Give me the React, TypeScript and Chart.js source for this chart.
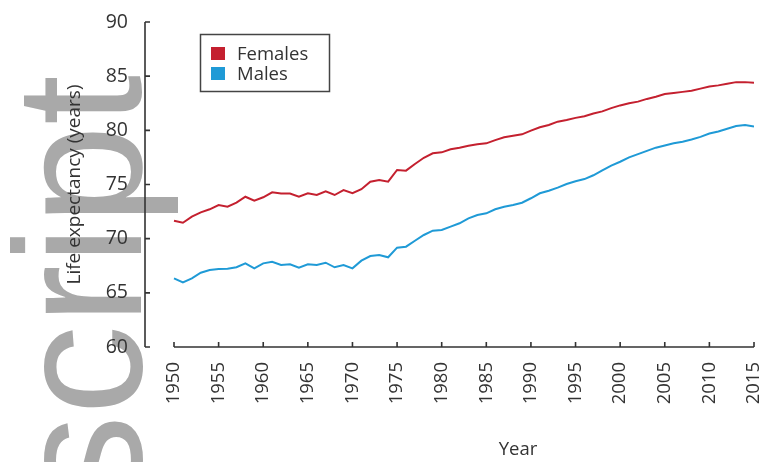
import React, { useEffect, useRef } from "react";
import { Chart, registerables } from "chart.js";

Chart.register(...registerables);

const years = [
  1950, 1951, 1952, 1953, 1954, 1955, 1956, 1957, 1958, 1959,
  1960, 1961, 1962, 1963, 1964, 1965, 1966, 1967, 1968, 1969,
  1970, 1971, 1972, 1973, 1974, 1975, 1976, 1977, 1978, 1979,
  1980, 1981, 1982, 1983, 1984, 1985, 1986, 1987, 1988, 1989,
  1990, 1991, 1992, 1993, 1994, 1995, 1996, 1997, 1998, 1999,
  2000, 2001, 2002, 2003, 2004, 2005, 2006, 2007, 2008, 2009,
  2010, 2011, 2012, 2013, 2014, 2015,
];

const females = [
  71.66, 71.47, 72.03, 72.43, 72.71, 73.1, 72.95, 73.32, 73.87, 73.5,
  73.82, 74.28, 74.16, 74.16, 73.87, 74.19, 74.03, 74.37, 74.03, 74.49,
  74.19, 74.56, 75.26, 75.42, 75.26, 76.34, 76.28, 76.89, 77.47, 77.88,
  77.97, 78.25, 78.4, 78.58, 78.71, 78.8, 79.1, 79.36, 79.5, 79.63,
  79.97, 80.28, 80.49, 80.8, 80.95, 81.15, 81.3, 81.55, 81.75, 82.05,
  82.3, 82.5, 82.65, 82.9, 83.1, 83.35, 83.45, 83.55, 83.65, 83.85,
  84.05, 84.15, 84.3, 84.45, 84.45, 84.4,
];

const males = [
  66.34, 65.97, 66.34, 66.86, 67.11, 67.2, 67.23, 67.36, 67.72, 67.26,
  67.72, 67.87, 67.57, 67.63, 67.32, 67.63, 67.57, 67.78, 67.36, 67.57,
  67.26, 67.97, 68.4, 68.5, 68.28, 69.17, 69.26, 69.81, 70.34, 70.74,
  70.8, 71.11, 71.42, 71.88, 72.19, 72.34, 72.71, 72.95, 73.11, 73.32,
  73.73, 74.19, 74.43, 74.71, 75.05, 75.3, 75.5, 75.85, 76.3, 76.75,
  77.1, 77.5, 77.8, 78.1, 78.4, 78.6, 78.8, 78.95, 79.15, 79.4,
  79.7, 79.9, 80.15, 80.4, 80.5, 80.35,
];

const xTickValues = [1950, 1955, 1960, 1965, 1970, 1975, 1980, 1985, 1990, 1995, 2000, 2005, 2010, 2015];
const yTickValues = [60, 65, 70, 75, 80, 85, 90];

const seriesLabels = ["Females", "Males"];
const seriesColors = ["#c4202f", "#1f9ad6"];
const yTitle = "Life expectancy (years)";
const xTitle = "Year";
const watermarkText = "script";

const FONT = "'Open Sans', sans-serif";
const TEXT = "#333333";
const AXIS = "#333333";

const customPlugin = {
  id: "customDecor",
  beforeDraw(chart: any) {
    const { ctx } = chart;
    ctx.save();
    ctx.translate(141, 505);
    ctx.rotate(-Math.PI / 2);
    ctx.fillStyle = "#a9a9a9";
    ctx.font = "180px 'Liberation Sans', Arial, sans-serif";
    ctx.textAlign = "left";
    ctx.textBaseline = "alphabetic";
    ctx.fillText(watermarkText, 0, 0);
    ctx.restore();
  },
  beforeDatasetsDraw(chart: any) {
    const { ctx, chartArea } = chart;
    const x = chart.scales.x;
    const y = chart.scales.y;
    ctx.save();
    ctx.strokeStyle = AXIS;
    ctx.lineWidth = 1.6;
    ctx.lineCap = "butt";
    ctx.beginPath();
    const ax = chartArea.left;
    const yTop = y.getPixelForValue(yTickValues[yTickValues.length - 1]);
    const yBot = y.getPixelForValue(yTickValues[0]);
    ctx.moveTo(ax, yTop);
    ctx.lineTo(ax, yBot);
    yTickValues.forEach((v) => {
      const py = y.getPixelForValue(v);
      ctx.moveTo(ax, py);
      ctx.lineTo(ax + 5, py);
    });
    const by = chartArea.bottom;
    ctx.moveTo(x.getPixelForValue(xTickValues[0]), by);
    ctx.lineTo(x.getPixelForValue(xTickValues[xTickValues.length - 1]), by);
    xTickValues.forEach((v) => {
      const px = x.getPixelForValue(v);
      ctx.moveTo(px, by);
      ctx.lineTo(px, by - 5);
    });
    ctx.stroke();
    ctx.restore();
  },
  afterDraw(chart: any) {
    const { ctx } = chart;
    ctx.save();
    ctx.strokeStyle = "#444444";
    ctx.lineWidth = 1.5;
    ctx.strokeRect(200.5, 34.5, 129, 57);
    ctx.font = `18.5px ${FONT}`;
    ctx.textBaseline = "middle";
    ctx.textAlign = "left";
    chart.data.datasets.forEach((ds: any, i: number) => {
      const cy = 53.5 + i * 20;
      ctx.fillStyle = ds.borderColor;
      ctx.fillRect(211, cy - 6.5, 14, 13);
      ctx.fillStyle = TEXT;
      ctx.fillText(ds.label, 237, cy + 1);
    });
    ctx.font = `18.5px ${FONT}`;
    ctx.textAlign = "center";
    ctx.textBaseline = "alphabetic";
    ctx.fillStyle = TEXT;
    ctx.fillText(xTitle, 518, 455);
    ctx.restore();
  },
};

export default function App() {
  const canvasRef = useRef<HTMLCanvasElement | null>(null);

  useEffect(() => {
    if (!canvasRef.current) return;
    const chart = new Chart(canvasRef.current, {
      type: "line",
      data: {
        datasets: [
          {
            label: seriesLabels[0],
            data: years.map((yr, i) => ({ x: yr, y: females[i] })),
            borderColor: seriesColors[0],
            backgroundColor: seriesColors[0],
            borderWidth: 2,
            pointRadius: 0,
            tension: 0,
          },
          {
            label: seriesLabels[1],
            data: years.map((yr, i) => ({ x: yr, y: males[i] })),
            borderColor: seriesColors[1],
            backgroundColor: seriesColors[1],
            borderWidth: 2,
            pointRadius: 0,
            tension: 0,
          },
        ],
      },
      options: {
        animation: false,
        responsive: true,
        maintainAspectRatio: false,
        layout: { padding: { top: 22, right: 12, left: 0, bottom: 0 } },
        plugins: {
          legend: { display: false },
          tooltip: { enabled: false },
        },
        scales: {
          x: {
            type: "linear",
            min: 1946.75,
            max: 2015,
            grid: { display: false, drawTicks: false },
            border: { display: false },
            afterBuildTicks: (scale: any) => {
              scale.ticks = xTickValues.map((v) => ({ value: v }));
            },
            afterFit: (scale: any) => {
              scale.height = 115;
              scale.paddingLeft = 0;
              scale.paddingRight = 0;
            },
            ticks: {
              minRotation: 90,
              maxRotation: 90,
              padding: 15,
              color: TEXT,
              font: { family: FONT, size: 18.5 },
              callback: (v: any) => String(v),
              autoSkip: false,
            },
          },
          y: {
            type: "linear",
            min: 60,
            max: 90,
            grid: { display: false, drawTicks: false },
            border: { display: false },
            afterBuildTicks: (scale: any) => {
              scale.ticks = yTickValues.map((v) => ({ value: v }));
            },
            afterFit: (scale: any) => {
              scale.width = 145;
              scale.paddingTop = 0;
              scale.paddingBottom = 0;
            },
            ticks: {
              padding: 17,
              color: TEXT,
              font: { family: FONT, size: 19.5 },
            },
            title: {
              display: true,
              text: yTitle,
              color: TEXT,
              font: { family: FONT, size: 19 },
              padding: { top: 63.5, bottom: 4 },
            },
          },
        },
      },
      plugins: [customPlugin],
    } as any);
    return () => chart.destroy();
  }, []);

  return (
    <div style={{ position: "fixed", left: 0, top: 0, width: 766, height: 462, background: "#ffffff" }}>
      <canvas ref={canvasRef} style={{ display: "block" }} />
    </div>
  );
}
